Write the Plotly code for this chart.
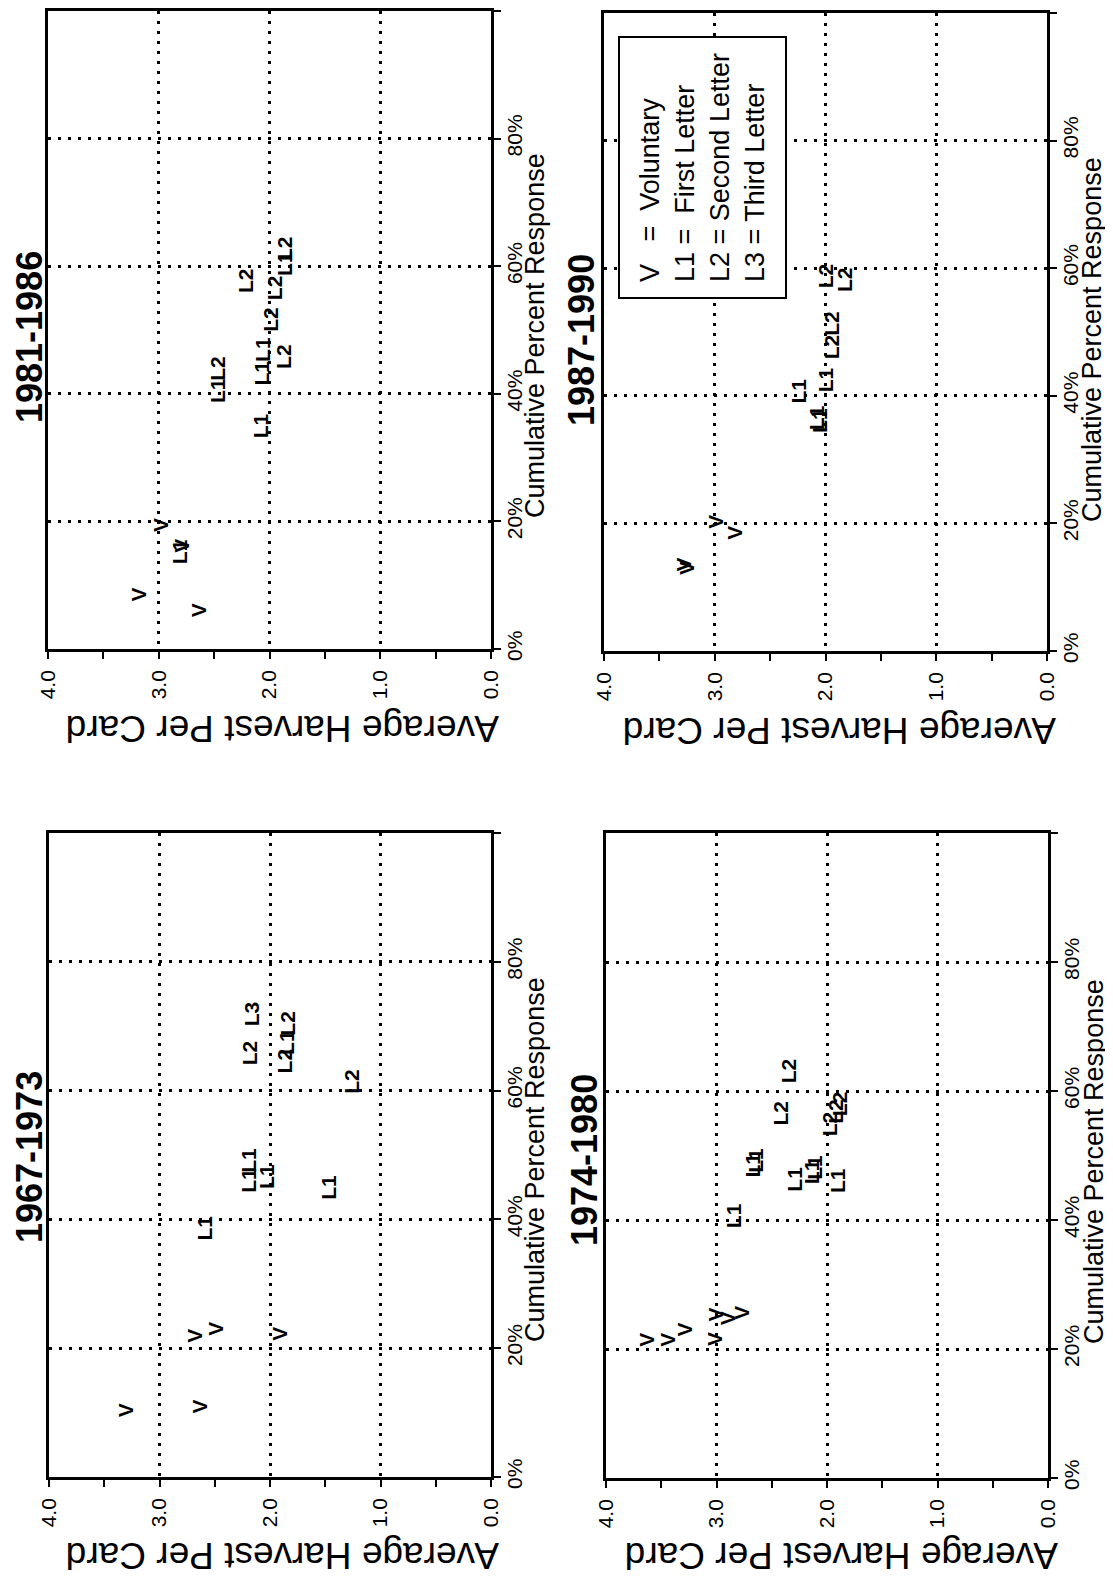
import plotly.graph_objects as go

PAGE_W, PAGE_H = 1113, 1579
OFF = 8                      # default body margin of the html page
W, H = PAGE_W - OFF, PAGE_H - OFF

# ---------------- data ----------------
titles = ["1981-1986", "1987-1990", "1967-1973", "1974-1980"]

labels_8186 = ["V", "V", "V", "V", "L1", "L1", "L1", "L1", "L1", "L1",
               "L2", "L2", "L2", "L2", "L2", "L2"]
harvest_8186 = [3.18, 2.64, 2.99, 2.79, 2.81, 2.08, 2.47, 2.07, 2.07, 1.87,
                2.47, 1.99, 1.88, 2.21, 1.96, 1.86]
pct_8186 = [8.5, 6.0, 19.4, 16.2, 15.3, 35.0, 40.5, 43.3, 47.0, 60.5,
            44.0, 51.7, 45.9, 57.7, 56.7, 62.7]

labels_8790 = ["V", "V", "V", "V", "L1", "L1", "L1", "L1", "L2", "L2", "L2", "L2"]
harvest_8790 = [3.28, 3.26, 3.00, 2.82, 2.08, 2.06, 2.24, 2.00, 1.95, 1.94, 2.00, 1.83]
pct_8790 = [13.5, 13.0, 20.2, 18.5, 36.6, 36.2, 40.8, 42.5, 47.6, 51.3, 58.8, 58.2]

labels_6773 = ["V", "V", "V", "V", "V", "L1", "L1", "L1", "L1", "L1", "L1",
               "L2", "L2", "L2", "L2", "L3"]
harvest_6773 = [3.31, 2.64, 2.68, 2.49, 1.92, 2.59, 2.19, 2.19, 2.03, 1.47, 1.85,
                1.26, 2.19, 1.86, 1.84, 2.16]
pct_6773 = [10.4, 11.0, 21.9, 23.0, 22.2, 38.7, 46.0, 49.1, 46.7, 45.0, 67.5,
            61.5, 65.8, 64.6, 70.5, 71.9]

labels_7480 = ["V", "V", "V", "V", "V", "V", "V",
               "L1", "L1", "L1", "L1", "L1", "L1", "L1",
               "L2", "L2", "L2", "L2", "L2"]
harvest_7480 = [3.63, 3.44, 3.29, 3.02, 3.01, 2.90, 2.77,
                2.85, 2.67, 2.65, 2.29, 2.14, 2.12, 1.91,
                2.35, 2.42, 1.97, 1.93, 1.88]
pct_7480 = [21.4, 21.4, 23.1, 21.6, 25.4, 24.7, 25.6,
            40.6, 48.6, 49.2, 46.4, 47.5, 48.2, 46.2,
            63.1, 56.6, 54.9, 56.9, 58.0]

harvest_ticks = [0, 1, 2, 3, 4]
harvest_ticktext = ["0.0", "1.0", "2.0", "3.0", "4.0"]
pct_ticks = [0, 20, 40, 60, 80, 100]
pct_ticktext = ["0%", "20%", "40%", "60%", "80%", ""]

legend_lines = ["V\u00a0\u00a0\u00a0=\u00a0\u00a0Voluntary",
                "L1 =\u00a0\u00a0First Letter",
                "L2 = Second Letter",
                "L3 = Third Letter"]

# ---------------- layout geometry (page pixels) ----------------
panels = [
    dict(box=(48, 11, 491, 649), data=(labels_8186, harvest_8186, pct_8186),
         title_xy=(29, 337), ylab_xy=(535, 336), xlab_xy=(283, 729)),
    dict(box=(604, 13, 1047, 651), data=(labels_8790, harvest_8790, pct_8790),
         title_xy=(582, 340), ylab_xy=(1092, 340), xlab_xy=(840, 731)),
    dict(box=(49, 833, 491, 1477), data=(labels_6773, harvest_6773, pct_6773),
         title_xy=(29, 1157), ylab_xy=(535, 1160), xlab_xy=(283, 1556)),
    dict(box=(606, 833, 1048, 1478), data=(labels_7480, harvest_7480, pct_7480),
         title_xy=(584, 1160), ylab_xy=(1094, 1162), xlab_xy=(842, 1556)),
]

FONT = "Liberation Sans, Arial, sans-serif"

def px(xp):
    return (xp - OFF) / W

def py(yp):
    return 1 - (yp - OFF) / H

fig = go.Figure()
layout = dict(width=W, height=H, margin=dict(l=0, r=0, t=0, b=0, pad=0),
              autosize=False,
              paper_bgcolor="white", plot_bgcolor="white", showlegend=False,
              font=dict(family=FONT, color="black"))
annotations = []

for i, (p, title) in enumerate(zip(panels, titles), start=1):
    x0, y0, x1, y1 = p["box"]
    sx = "" if i == 1 else str(i)
    labels, hv, pv = p["data"]

    fig.add_trace(go.Scatter(x=hv, y=pv, mode="markers",
                             marker=dict(size=1, opacity=0),
                             xaxis="x" + sx, yaxis="y" + sx, hoverinfo="skip"))

    layout["xaxis" + sx] = dict(
        domain=[px(x0), px(x1)], range=[4, 0], anchor="y" + sx,
        automargin=False,
        tickmode="array", tickvals=harvest_ticks, ticktext=harvest_ticktext,
        ticks="outside", ticklen=7, tickwidth=2, tickcolor="black",
        tickangle=-90, tickfont=dict(family=FONT, size=21, color="black"),
        ticklabelstandoff=3,
        showline=True, mirror=True, linecolor="black", linewidth=2.5,
        showgrid=True, gridcolor="black", gridwidth=3, griddash="3px,7px",
        zeroline=False,
        minor=dict(tickvals=[0.5, 1.5, 2.5, 3.5], ticks="outside", ticklen=7,
                   tickwidth=2, tickcolor="black", showgrid=False),
    )
    layout["yaxis" + sx] = dict(
        domain=[py(y1), py(y0)], range=[0, 100], anchor="x" + sx, side="right",
        automargin=False,
        tickmode="array", tickvals=pct_ticks, ticktext=pct_ticktext,
        ticks="outside", ticklen=7, tickwidth=2, tickcolor="black",
        tickangle=-90, tickfont=dict(family=FONT, size=21, color="black"),
        ticklabelstandoff=-4,
        showline=True, mirror=True, linecolor="black", linewidth=2.5,
        showgrid=True, gridcolor="black", gridwidth=3, griddash="3px,7px",
        zeroline=False,
    )

    # point labels
    for lab, h, pc in zip(labels, hv, pv):
        annotations.append(dict(
            x=h, y=pc, xref="x" + sx, yref="y" + sx, text="<b>%s</b>" % lab,
            showarrow=False, textangle=-90, xanchor="center", yanchor="middle",
            font=dict(family=FONT, size=21, color="black")))

    # panel title
    tx, ty = p["title_xy"]
    annotations.append(dict(
        x=px(tx), y=py(ty), xref="paper", yref="paper", text="<b>%s</b>" % title,
        showarrow=False, textangle=-90, xanchor="center", yanchor="middle",
        font=dict(family=FONT, size=36, color="black")))

    # percent axis title
    lx, ly = p["ylab_xy"]
    annotations.append(dict(
        x=px(lx), y=py(ly), xref="paper", yref="paper",
        text="Cumulative Percent Response", showarrow=False, textangle=-90,
        xanchor="center", yanchor="middle",
        font=dict(family=FONT, size=27, color="black")))

    # harvest axis title (upside down)
    hx, hy = p["xlab_xy"]
    annotations.append(dict(
        x=px(hx), y=py(hy), xref="paper", yref="paper",
        text="Average Harvest Per Card", showarrow=False, textangle=180,
        xanchor="center", yanchor="middle",
        font=dict(family=FONT, size=37, color="black")))

# legend box in the 1987-1990 panel
annotations.append(dict(
    x=px(702), y=py(168), xref="paper", yref="paper",
    text="<br>".join(legend_lines), showarrow=False, textangle=-90, align="left",
    xanchor="center", yanchor="middle", bgcolor="white", bordercolor="black",
    borderwidth=2, borderpad=15,
    font=dict(family=FONT, size=27, color="black")))

layout["annotations"] = annotations
fig.update_layout(**layout)
fig.write_html("out.html")
